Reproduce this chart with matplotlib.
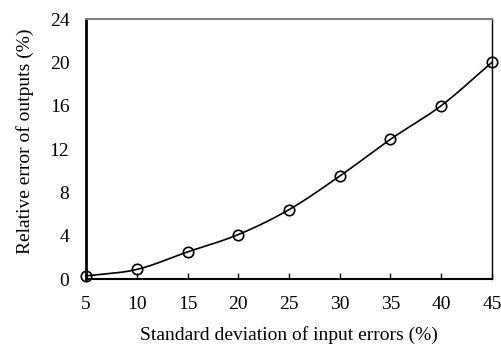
import numpy as np
import matplotlib
matplotlib.use("Agg")
import matplotlib.pyplot as plt

x_vals = [5, 10, 15, 20, 25, 30, 35, 40, 45]
y_vals = [0.28, 0.88, 2.5, 4.1, 6.4, 9.5, 12.9, 16.0, 20.0]
x_ticks = [5, 10, 15, 20, 25, 30, 35, 40, 45]
y_ticks = [0, 4, 8, 12, 16, 20, 24]

plt.rcParams['font.family'] = ['Liberation Serif', 'DejaVu Serif']

def catmull_rom(xs, ys, n=30):
    px = np.array(xs, float); py = np.array(ys, float)
    px = np.concatenate([[2*px[0]-px[1]], px, [2*px[-1]-px[-2]]])
    py = np.concatenate([[2*py[0]-py[1]], py, [2*py[-1]-py[-2]]])
    ox, oy = [], []
    t = np.linspace(0, 1, n, endpoint=False)
    for i in range(1, len(px)-2):
        p0, p1, p2, p3 = (np.array([px[j], py[j]]) for j in (i-1, i, i+1, i+2))
        pts = 0.5*((2*p1)[:, None] + (-p0+p2)[:, None]*t + (2*p0-5*p1+4*p2-p3)[:, None]*t**2 + (-p0+3*p1-3*p2+p3)[:, None]*t**3)
        ox.extend(pts[0]); oy.extend(pts[1])
    ox.append(px[-2]); oy.append(py[-2])
    return np.array(ox), np.array(oy)

fig = plt.figure(figsize=(5.01, 3.45), dpi=100)
ax = fig.add_axes([0.1717, 0.1913, 0.8103, 0.7536])
sx, sy = catmull_rom(x_vals, y_vals)
ax.plot(sx, sy, color='black', lw=1.2, zorder=2)
ax.plot(x_vals, y_vals, 'o', mfc='none', mec='black', mew=1.2, ms=7.5, zorder=3, clip_on=False)
ax.set_xlim(5, 45)
ax.set_ylim(0, 24)
ax.set_xticks(x_ticks)
ax.set_yticks(y_ticks)
ax.tick_params(axis='x', direction='in', length=4, width=1, labelsize=14, pad=12)
ax.tick_params(axis='y', length=0, labelsize=14, pad=12)
ax.spines['left'].set_linewidth(2)
ax.spines['bottom'].set_linewidth(1.5)
ax.spines['top'].set_color('#808080')
ax.spines['top'].set_linewidth(1.5)
ax.spines['right'].set_linewidth(1)
ax.set_xlabel('Standard deviation of input errors (%)', fontsize=14, va='center')
ax.set_ylabel('Relative error of outputs (%)', fontsize=14, va='center')
ax.xaxis.set_label_coords(0.5, -0.215)
ax.yaxis.set_label_coords(-0.150, 0.528)
fig.savefig('out.png', dpi=100)
